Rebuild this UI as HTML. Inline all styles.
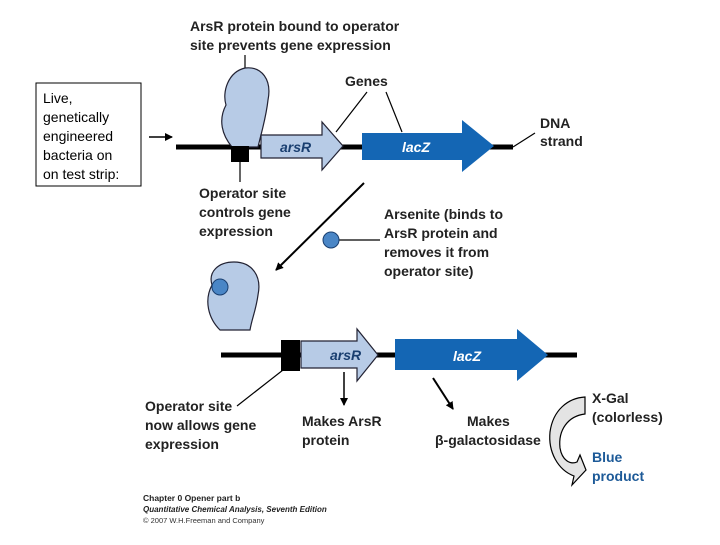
<!DOCTYPE html>
<html><head><meta charset="utf-8"><style>
body{margin:0;background:#fff;width:720px;height:540px;overflow:hidden;font-family:"Liberation Sans",sans-serif}
</style></head><body>
<svg width="720" height="540" viewBox="0 0 720 540" xmlns="http://www.w3.org/2000/svg" font-family="Liberation Sans, sans-serif">
<defs><marker id="ah" markerWidth="8" markerHeight="8" refX="7" refY="4" orient="auto" markerUnits="userSpaceOnUse"><path d="M0,0 L8,4 L0,8 Z" fill="#000"/></marker></defs>
<rect x="36" y="83" width="105" height="103" fill="#fff" stroke="#000" stroke-width="1"/>
<g font-size="14" fill="#000"><text x="43" y="103">Live,</text><text x="43" y="122">genetically</text><text x="43" y="141">engineered</text><text x="43" y="160">bacteria on</text><text x="43" y="179">on test strip:</text></g>
<line x1="149" y1="137" x2="172" y2="137" stroke="#000" stroke-width="1.5" marker-end="url(#ah)"/>
<g font-weight="bold" font-size="14" fill="#222">
<text x="190" y="31">ArsR protein bound to operator</text><text x="190" y="50">site prevents gene expression</text>
<text x="345" y="86">Genes</text>
<text x="540" y="128">DNA</text><text x="540" y="146">strand</text>
<text x="199" y="198">Operator site</text><text x="199" y="217">controls gene</text><text x="199" y="236">expression</text>
<text x="384" y="219">Arsenite (binds to</text><text x="384" y="238">ArsR protein and</text><text x="384" y="257">removes it from</text><text x="384" y="276">operator site)</text>
<text x="145" y="411">Operator site</text><text x="145" y="430">now allows gene</text><text x="145" y="449">expression</text>
<text x="302" y="426">Makes ArsR</text><text x="302" y="445">protein</text>
<text x="467" y="426">Makes</text><text x="435" y="445">β-galactosidase</text>
<text x="592" y="403">X-Gal</text><text x="592" y="422">(colorless)</text>
<text x="592" y="462" fill="#1d5a98">Blue</text><text x="592" y="481" fill="#1d5a98">product</text>
</g>
<line x1="245" y1="55" x2="245" y2="72" stroke="#000" stroke-width="1.2"/>
<line x1="367" y1="92" x2="336" y2="132" stroke="#000" stroke-width="1.2"/>
<line x1="386" y1="92" x2="402" y2="132" stroke="#000" stroke-width="1.2"/>
<line x1="513" y1="147" x2="535" y2="133" stroke="#000" stroke-width="1.2"/>
<line x1="176" y1="147" x2="513" y2="147" stroke="#000" stroke-width="5"/>
<path d="M232,147 C222,135 218,120 226,105 C222,92 228,72 245,68 C262,66 272,80 268,100 C266,118 262,130 258,147 Z" fill="#b7cbe6" stroke="#223" stroke-width="1.2"/>
<rect x="231" y="146" width="18" height="16" fill="#000"/>
<line x1="240" y1="162" x2="240" y2="182" stroke="#000" stroke-width="1.2"/>
<path d="M261,135 H322 V122 L343,146 L322,170 V158 H261 Z" fill="#b7cbe6" stroke="#223" stroke-width="1.2"/>
<text x="280" y="152" font-size="14" font-style="italic" font-weight="bold" fill="#1a3f70">arsR</text>
<path d="M362,133 H462 V120 L494,146 L462,172 V160 H362 Z" fill="#1466b4"/>
<text x="402" y="152" font-size="14" font-style="italic" font-weight="bold" fill="#fff">lacZ</text>
<line x1="364" y1="183" x2="276" y2="270" stroke="#000" stroke-width="2" marker-end="url(#ah)"/>
<line x1="339" y1="240" x2="380" y2="240" stroke="#000" stroke-width="1.2"/>
<circle cx="331" cy="240" r="8" fill="#4a86c6" stroke="#1a3f70"/>
<path d="M220,330 C208,318 204,300 212,285 C208,272 218,262 234,262 C252,262 262,276 258,295 C256,310 252,318 250,330 Z" fill="#b7cbe6" stroke="#223" stroke-width="1.2"/>
<circle cx="220" cy="287" r="8" fill="#4a86c6" stroke="#1a3f70"/>
<line x1="221" y1="355" x2="577" y2="355" stroke="#000" stroke-width="5"/>
<rect x="281" y="340" width="19" height="31" fill="#000"/>
<path d="M301,341 H357 V329 L378,355 L357,381 V368 H301 Z" fill="#b7cbe6" stroke="#223" stroke-width="1.2"/>
<text x="330" y="360" font-size="14" font-style="italic" font-weight="bold" fill="#1a3f70">arsR</text>
<path d="M395,339 H517 V329 L548,355 L517,381 V370 H395 Z" fill="#1466b4"/>
<text x="453" y="361" font-size="14" font-style="italic" font-weight="bold" fill="#fff">lacZ</text>
<line x1="283" y1="370" x2="237" y2="406" stroke="#000" stroke-width="1.2"/>
<line x1="344" y1="372" x2="344" y2="405" stroke="#000" stroke-width="1.5" marker-end="url(#ah)"/>
<line x1="433" y1="378" x2="453" y2="409" stroke="#000" stroke-width="2" marker-end="url(#ah)"/>
<path d="M585,397 V414 C568,416 558,430 560,448 C562,460 570,465 577,462 L580,455 L586,470 L572,485 L574,476 C558,470 548,452 550,432 C553,410 568,398 585,397 Z" fill="#e4e4e4" stroke="#000" stroke-width="1.2"/>
<text x="143" y="501" font-size="8.5" font-weight="bold" fill="#222">Chapter 0 Opener part b</text>
<text x="143" y="512" font-size="8" font-style="italic" font-weight="bold" fill="#222">Quantitative Chemical Analysis, Seventh Edition</text>
<text x="143" y="523" font-size="7.5" fill="#333">© 2007 W.H.Freeman and Company</text>
</svg>
</body></html>
